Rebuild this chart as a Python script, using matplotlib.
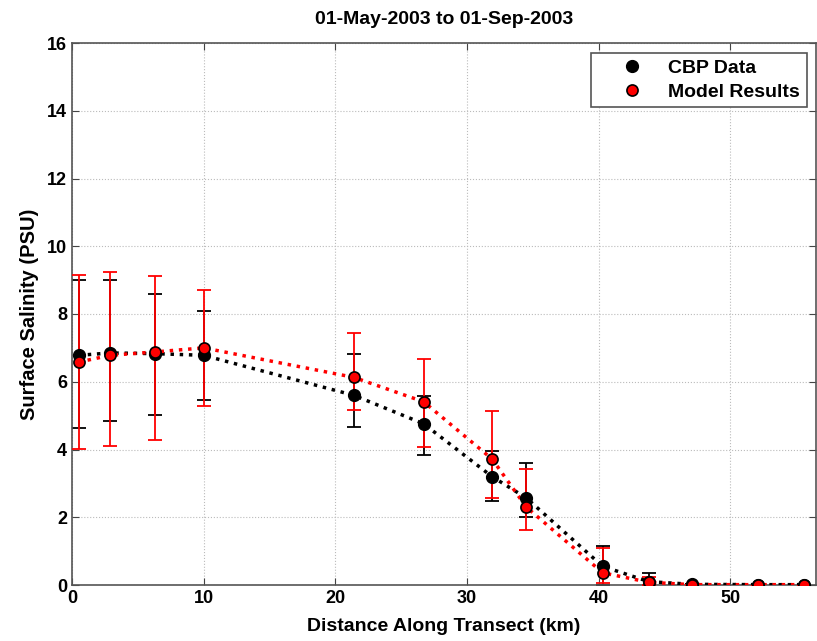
import matplotlib
matplotlib.use('Agg')
import matplotlib.pyplot as plt

# distance along transect (km)
distancia = [0.5, 2.9, 6.3, 10.0, 21.4, 26.7, 31.9, 34.5, 40.3, 43.8, 47.1, 52.1, 55.6]

# CBP data: mean salinity and error bar extents
cbp_media = [6.78, 6.85, 6.83, 6.78, 5.60, 4.76, 3.20, 2.57, 0.55, 0.10, 0.02, 0.01, 0.01]
cbp_erro_inf = [2.14, 2.00, 1.80, 1.31, 0.93, 0.91, 0.72, 0.57, 0.55, 0.10, 0.0, 0.0, 0.0]
cbp_erro_sup = [2.22, 2.15, 1.77, 1.30, 1.23, 0.83, 0.77, 1.03, 0.61, 0.26, 0.0, 0.0, 0.0]

# model results
mod_media = [6.58, 6.78, 6.88, 7.00, 6.13, 5.41, 3.72, 2.30, 0.36, 0.08, 0.01, 0.01, 0.01]
mod_erro_inf = [2.56, 2.67, 2.59, 1.73, 0.97, 1.34, 1.16, 0.67, 0.31, 0.08, 0.0, 0.0, 0.0]
mod_erro_sup = [2.56, 2.47, 2.24, 1.70, 1.32, 1.27, 1.41, 1.12, 0.74, 0.17, 0.0, 0.0, 0.0]

plt.rcParams['font.family'] = ['Liberation Sans', 'DejaVu Sans']
plt.rcParams['font.weight'] = 'bold'

fig = plt.figure(figsize=(8.17, 6.41), dpi=100)
ax = fig.add_axes([72 / 817, 56 / 641, 744 / 817, 542 / 641])

ax.errorbar(distancia, cbp_media, yerr=[cbp_erro_inf, cbp_erro_sup], fmt='none',
            ecolor='black', elinewidth=1.3, capsize=4.7, capthick=1.3, zorder=2)
ax.errorbar(distancia, mod_media, yerr=[mod_erro_inf, mod_erro_sup], fmt='none',
            ecolor='red', elinewidth=1.3, capsize=4.7, capthick=1.3, zorder=3)

ax.plot(distancia, cbp_media, linestyle=':', color='black', linewidth=2.5, zorder=4)
ax.plot(distancia, mod_media, linestyle=':', color='red', linewidth=2.5, zorder=5)
ax.plot(distancia, cbp_media, 'o', color='black', markersize=8.5,
        markeredgecolor='black', label='CBP Data', zorder=6)
ax.plot(distancia, mod_media, 'o', color='red', markersize=8,
        markeredgecolor='black', markeredgewidth=1.2, label='Model Results', zorder=7)

ax.set_xlim(0, 56.5)
ax.set_ylim(0, 16)
ax.set_xticks(range(0, 51, 10))
ax.set_yticks(range(0, 17, 2))
ax.tick_params(direction='in', top=True, right=True, labelsize=13, length=5, color='#444444')
for s in ax.spines.values():
    s.set_color('#555555')
    s.set_linewidth(1.2)
ax.grid(True, linestyle=':', color='#bbbbbb', linewidth=0.8)
ax.set_axisbelow(True)

ax.set_title('01-May-2003 to 01-Sep-2003', fontsize=14, fontweight='bold', pad=14)
ax.set_xlabel('Distance Along Transect (km)', fontsize=14, fontweight='bold', labelpad=8)
ax.set_ylabel('Surface Salinity (PSU)', fontsize=14.5, fontweight='bold', labelpad=6)

leg = ax.legend(loc='upper right', fontsize=14, fancybox=False, edgecolor='#555555',
                framealpha=1, handletextpad=0.1, borderpad=0.35, handlelength=3.5,
                labelspacing=0.3, borderaxespad=0,
                bbox_to_anchor=(0.9875, 0.982))
leg.get_frame().set_linewidth(1.2)

fig.savefig('out.png', dpi=100)
